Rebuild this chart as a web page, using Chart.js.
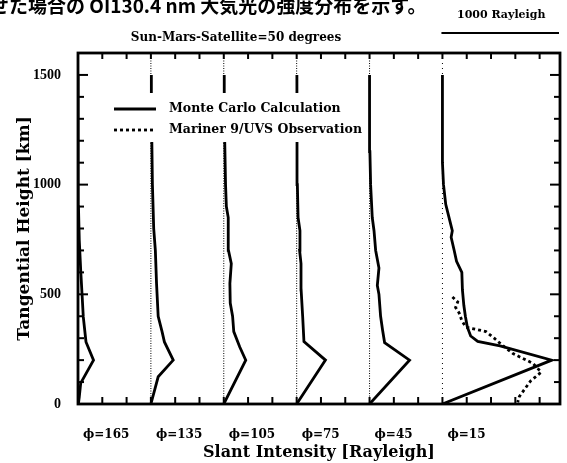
<!DOCTYPE html>
<html>
<head>
<meta charset="utf-8">
<script src="https://cdn.jsdelivr.net/npm/chart.js@4.4.1/dist/chart.umd.min.js"></script>
<style>
  html, body { margin: 0; padding: 0; background: #fff; }
  #wrap { width: 567px; height: 463px; }
</style>
</head>
<body>
<div id="wrap"><canvas id="profiles" width="567" height="463"></canvas></div>
<script>
// solar phase angle of each panel, left to right
const phiAngles = [165, 135, 105, 75, 45, 15];
// horizontal shift between neighbouring panels, in Rayleigh
const panelStep = 620;
const yTicks = [0, 500, 1000, 1500];

// Monte Carlo slant intensity: [tangential height km, Rayleigh above the panel baseline]
const mcPhi165 = [[0, 3], [33, 11], [95, 23], [200, 132], [283, 68], [397, 45], [505, 34], [609, 23], [745, 11], [900, 4], [1500, 1]];
const mcPhi135 = [[0, 0], [124, 62], [200, 190], [283, 115], [330, 95], [400, 62], [550, 48], [700, 38], [800, 24], [1000, 13], [1200, 8], [1500, 4]];
const mcPhi105 = [[0, 0], [200, 187], [260, 136], [330, 85], [400, 75], [460, 55], [550, 52], [640, 64], [700, 40], [790, 40], [850, 36], [900, 22], [1000, 15], [1200, 8], [1500, 4]];
const mcPhi75 = [[0, 0], [200, 245], [285, 62], [400, 51], [520, 38], [640, 37], [700, 25], [790, 28], [850, 12], [1000, 6], [1200, 3], [1500, 2]];
const mcPhi45 = [[0, 0], [200, 340], [280, 128], [340, 110], [400, 94], [500, 80], [540, 66], [620, 80], [700, 52], [790, 38], [850, 23], [1000, 9], [1150, 3], [1500, 0]];
const mcPhi15 = [[0, 0], [200, 930], [265, 490], [285, 300], [310, 240], [350, 212], [400, 195], [450, 182], [520, 170], [600, 165], [650, 120], [700, 100], [760, 74], [790, 84], [820, 70], [910, 28], [1000, 9], [1100, 0], [1500, 0]];

// Mariner 9 / UVS limb scan, phi = 15 only
const obsPhi15 = [[488, 85], [465, 130], [440, 112], [415, 142], [380, 165], [350, 200], [340, 290], [330, 370], [300, 440], [270, 505], [230, 600], [185, 770], [145, 840], [105, 750], [35, 655], [8, 640]];

const mcProfiles = [mcPhi165, mcPhi135, mcPhi105, mcPhi75, mcPhi45, mcPhi15];
const baselineTop = 1590;
const scaleBarRayleigh = 1000;

const serif = '"DejaVu Serif", "Liberation Serif", serif';
const narrowSerif = '"Liberation Serif", serif';

function toPoints(profile, panel) {
    return profile.map(([h, r]) => ({x: r + panel * panelStep, y: h}));
}

const datasets = [];
// dotted zero line of every panel
phiAngles.forEach((phi, i) => {
    datasets.push({
        data: [{x: i * panelStep, y: 0}, {x: i * panelStep, y: baselineTop}],
        borderColor: '#000',
        borderWidth: 1,
        borderDash: i === 5 ? [1, 4] : [1, 1.5],
        pointRadius: 0,
        showLine: true
    });
});
mcProfiles.forEach((profile, i) => {
    datasets.push({
        data: toPoints(profile, i),
        borderColor: '#000',
        borderWidth: 2.8,
        pointRadius: 0,
        showLine: true,
        tension: 0
    });
});
datasets.push({
    data: toPoints(obsPhi15, 5),
    borderColor: '#000',
    borderWidth: 2.8,
    borderDash: [3, 3],
    pointRadius: 0,
    showLine: true
});

function line(ctx, x1, y1, x2, y2) {
    ctx.beginPath();
    ctx.moveTo(x1, y1);
    ctx.lineTo(x2, y2);
    ctx.stroke();
}

const decorations = {
    id: 'decorations',
    afterDatasetsDraw(chart) {
        const ctx = chart.ctx;
        ctx.save();
        // legend sits on a white patch over the curves
        ctx.fillStyle = '#fff';
        ctx.fillRect(110, 93, 256, 49);
        ctx.strokeStyle = '#000';
        ctx.lineWidth = 2.8;
        line(ctx, 114, 109, 156, 109);
        ctx.setLineDash([3, 3]);
        line(ctx, 114, 130, 156, 130);
        ctx.setLineDash([]);
        ctx.fillStyle = '#000';
        ctx.font = 'bold 12.5px ' + serif;
        ctx.textBaseline = 'middle';
        ctx.textAlign = 'left';
        ctx.fillText('Monte Carlo Calculation', 169, 109);
        ctx.fillText('Mariner 9/UVS Observation', 169, 130);
        ctx.restore();
    },
    afterDraw(chart) {
        const ctx = chart.ctx;
        const {left, right, top, bottom} = chart.chartArea;
        const xs = chart.scales.x, ys = chart.scales.y;
        ctx.save();
        ctx.strokeStyle = '#000';
        ctx.lineWidth = 2;
        for (let h = 100; h < ys.max; h += 100) {
            const py = ys.getPixelForValue(h);
            const len = h % 500 === 0 ? 10 : 6;
            line(ctx, left, py, left + len, py);
            line(ctx, right, py, right - len, py);
        }
        for (let k = 1; k * panelStep / 3 < xs.max; k++) {
            const px = xs.getPixelForValue(k * panelStep / 3);
            line(ctx, px, bottom, px, bottom - 7);
            line(ctx, px, top, px, top + 6);
        }
        ctx.lineWidth = 2.8;
        ctx.strokeRect(left, top, right - left, bottom - top);

        // 1000 Rayleigh scale bar, flush with the right edge
        const barL = xs.getPixelForValue(xs.max - scaleBarRayleigh);
        const barR = xs.getPixelForValue(xs.max);
        ctx.lineWidth = 2;
        line(ctx, barL - 1, 33, barR - 1, 33);
        ctx.fillStyle = '#000';
        ctx.textAlign = 'center';
        ctx.textBaseline = 'middle';
        ctx.font = 'bold 11px ' + serif;
        ctx.fillText(scaleBarRayleigh + ' Rayleigh', (barL + barR) / 2, 15);
        ctx.font = 'bold 12px ' + serif;
        ctx.fillText('Sun-Mars-Satellite=50 degrees', 236, 38);

        ctx.textAlign = 'left';
        ctx.textBaseline = 'alphabetic';
        ctx.font = 'bold 19px "Noto Sans CJK JP"';
        ctx.fillText('せた場合の OI130.4 nm 大気光の強度分布を示す。', -10, 13);
        ctx.restore();
    }
};

new Chart(document.getElementById('profiles'), {
    type: 'scatter',
    data: {datasets},
    options: {
        responsive: false,
        devicePixelRatio: 1,
        animation: false,
        layout: {padding: {top: 53, right: 7, left: 0, bottom: 0}},
        plugins: {legend: {display: false}, tooltip: {enabled: false}},
        scales: {
            x: {
                type: 'linear',
                min: 0,
                max: 4100,
                grid: {display: false},
                border: {display: false},
                afterBuildTicks: s => { s.ticks = phiAngles.map((p, i) => ({value: i * panelStep})); },
                afterFit: s => { s.height = 59; },
                ticks: {
                    autoSkip: false,
                    maxRotation: 0,
                    align: 'start',
                    labelOffset: 5,
                    padding: 16,
                    color: '#000',
                    font: {family: serif, size: 12, weight: 'bold'},
                    callback: (v, i) => 'ϕ=' + phiAngles[i]
                },
                title: {
                    display: true,
                    text: 'Slant Intensity [Rayleigh]',
                    color: '#000',
                    font: {family: serif, size: 16, weight: 'bold'},
                    padding: {top: 0, bottom: 1}
                }
            },
            y: {
                type: 'linear',
                min: 0,
                max: 1600,
                grid: {display: false},
                border: {display: false},
                afterBuildTicks: s => { s.ticks = yTicks.map(v => ({value: v})); },
                afterFit: s => { s.width = 78; },
                ticks: {
                    padding: 9,
                    color: '#000',
                    font: {family: narrowSerif, size: 14, weight: 'bold'},
                    callback: v => String(v)
                },
                title: {
                    display: true,
                    text: 'Tangential Height [km]',
                    color: '#000',
                    font: {family: serif, size: 17, weight: 'bold'},
                    padding: {top: 14, bottom: 0}
                }
            }
        }
    },
    plugins: [decorations]
});
</script>
</body>
</html>
